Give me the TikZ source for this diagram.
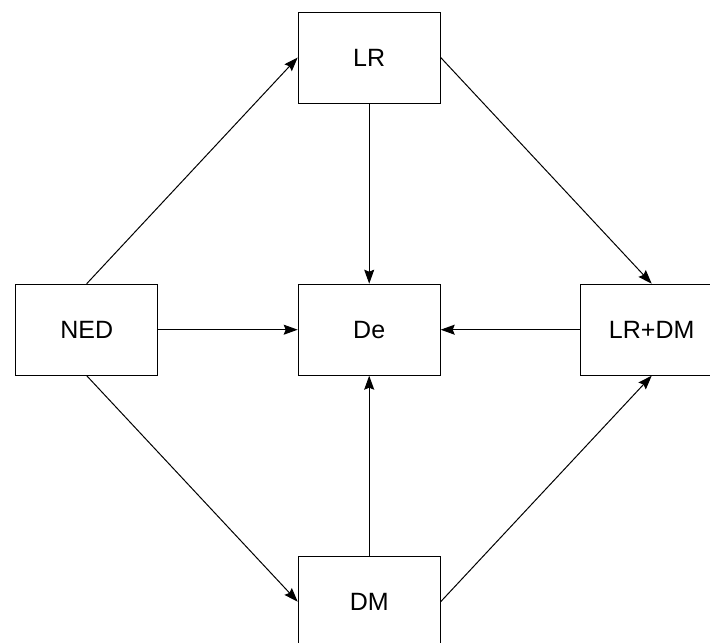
\documentclass[tikz,border=0pt]{standalone}
\usepackage{fontspec}
\setmainfont{Liberation Sans}
\usetikzlibrary{arrows.meta}
\begin{document}
\begin{tikzpicture}[x=1pt,y=-1pt,
  box/.style={draw, line width=1pt, minimum width=142pt, minimum height=91pt,
    inner sep=0pt, font=\fontsize{25}{30}\selectfont, fill=white},
  link/.style={draw, line width=1pt, -{Stealth[length=14pt,width=10pt,inset=2pt]}}]
  \useasboundingbox (0,0) rectangle (710,643);
  % the five states
  \node[box] (lr)   at (369.2,57.5)  {LR};
  \node[box] (ned)  at (86.7,329.7)  {NED};
  \node[box] (de)   at (369.2,329.7) {De};
  \node[box] (lrdm) at (651.7,329.7) {LR+DM};
  \node[box] (dm)   at (369.2,601.7) {DM};
  % transitions
  \draw[link] (ned.north) -- (lr.west);
  \draw[link] (ned.east) -- (de.west);
  \draw[link] (ned.south) -- (dm.west);
  \draw[link] (lr.south) -- (de.north);
  \draw[link] (lr.east) -- (lrdm.north);
  \draw[link] (lrdm.west) -- (de.east);
  \draw[link] (dm.north) -- (de.south);
  \draw[link] (dm.east) -- (lrdm.south);
\end{tikzpicture}
\end{document}
